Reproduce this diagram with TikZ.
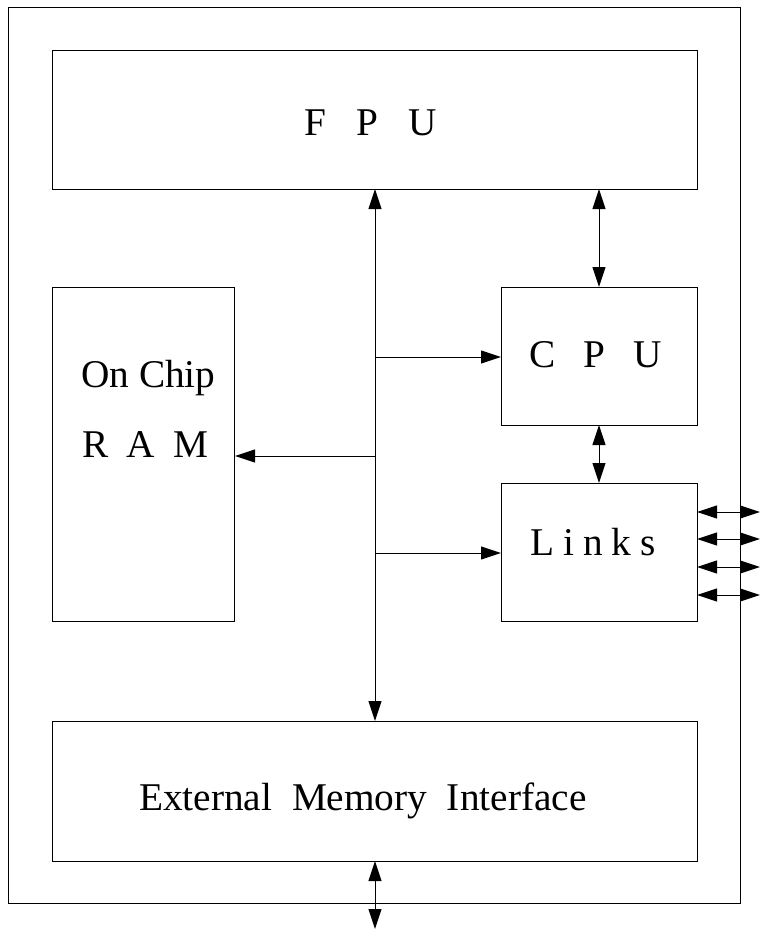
\documentclass[tikz,border=0pt]{standalone}
\usepackage{fontspec}
\setmainfont{Liberation Serif}
\usetikzlibrary{arrows.meta}
\begin{document}
\begin{tikzpicture}[x=1pt,y=-1pt,
  box/.style={draw=black,line width=1pt,inner sep=0pt,anchor=north west},
  lbl/.style={font=\fontsize{39.3}{41}\selectfont,inner sep=0pt,anchor=base west},
  tipA/.tip={Triangle[length=20pt,width=13pt]},
  conn/.style={line width=1pt,-tipA},
  dconn/.style={line width=1pt,tipA-tipA}]
\useasboundingbox (0,0) rectangle (760,929);
% outer frame
\node[box,minimum width=732pt,minimum height=896pt] (chip) at (8,7) {};
% boxes
\node[box,minimum width=645pt,minimum height=139pt] (fpu) at (52,50) {};
\node[box,minimum width=196pt,minimum height=138pt] (cpu) at (501,287) {};
\node[box,minimum width=196pt,minimum height=138pt] (links) at (501,483) {};
\node[box,minimum width=182pt,minimum height=334pt] (ram) at (52,287) {};
\node[box,minimum width=645pt,minimum height=140pt] (emi) at (52,721) {};
% labels
\node[lbl] (tfpu) at (304,135) {F\hspace{30.5pt}P\hspace{30.5pt}U};
\node[lbl] (tcpu) at (529,367) {C\hspace{28pt}P\hspace{28pt}U};
\node[lbl] (tlinks) at (530,555) {L\hspace{9pt}i\hspace{9pt}n\hspace{9pt}k\hspace{9pt}s};
\node[lbl] (tram1) at (81,387) {On Chip};
\node[lbl] (tram2) at (82,457) {R\hspace{18.5pt}A\hspace{18.5pt}M};
\node[lbl] (temi) at (139,810) {External\ \ Memory\ \ Interface};
% bus coordinates
\coordinate (btop) at (375,189);
\coordinate (bbot) at (375,721);
\coordinate (bcpu) at (375,357);
\coordinate (bram) at (375,456);
\coordinate (blinks) at (375,553);
\coordinate (ext) at (375,929);
\coordinate (fc1) at (599,189);
\coordinate (fc2) at (599,287);
\coordinate (cl1) at (599,425);
\coordinate (cl2) at (599,483);
% connectors
\draw[dconn] (btop) -- (bbot);
\draw[conn] (bcpu) -- (bcpu -| cpu.west);
\draw[conn] (bram) -- (bram -| ram.east);
\draw[conn] (blinks) -- (blinks -| links.west);
\draw[dconn] (fc1) -- (fc2);
\draw[dconn] (cl1) -- (cl2);
\draw[dconn] (375,861) -- (ext);
\foreach \yy/\nm in {512/a,539/b,567/c,595/d}{
  \coordinate (l\nm) at (697,\yy);
  \coordinate (r\nm) at (760,\yy);
  \draw[dconn] (l\nm) -- (r\nm);
}
\end{tikzpicture}
\end{document}
